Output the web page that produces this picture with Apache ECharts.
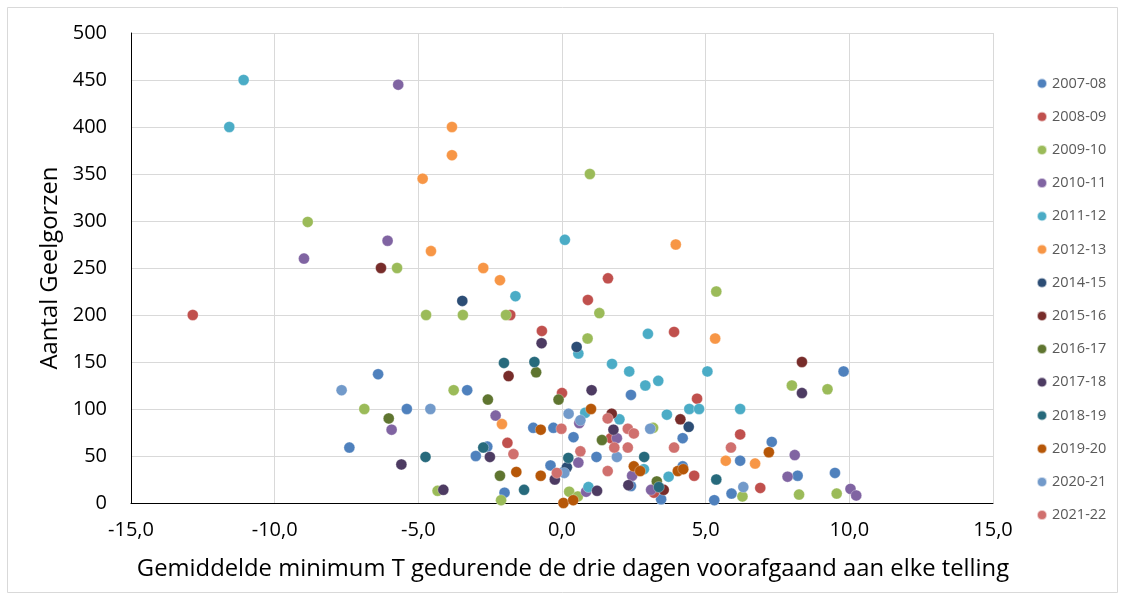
<!DOCTYPE html>
<html><head><meta charset="utf-8">
<script src="https://cdn.jsdelivr.net/npm/echarts@6/dist/echarts.min.js"></script>
<style>html,body{margin:0;padding:0;background:#fff}#c{width:1125px;height:600px}</style>
</head><body><div id="c"></div>
<script>
const seasons = ['2007-08','2008-09','2009-10','2010-11','2011-12','2012-13','2014-15','2015-16','2016-17','2017-18','2018-19','2019-20','2020-21','2021-22'];
const colors = ['#4F81BD','#C0504D','#9BBB59','#8064A2','#4BACC6','#F79646','#2C4D75','#772C2A','#5F7530','#4D3B62','#276A7C','#B65708','#729ACA','#D0706E'];
const xTicks = [-15,-10,-5,0,5,10,15];
const yTicks = [0,50,100,150,200,250,300,350,400,450,500];

const s2007_08 = [[-6.4,137],[-5.4,100],[-7.4,59],[-3.3,120],[-3.0,50],[-2.6,60],[-2.0,11],[-1.0,80],[-0.3,80],[-0.4,40],[0.4,70],[0.05,33],[1.2,49],[2.4,115],[2.4,18],[4.2,69],[4.2,39],[3.45,4],[5.3,3],[6.2,45],[7.3,65],[8.2,29],[9.5,32],[9.8,140],[5.9,10]];
const s2008_09 = [[-12.85,200],[-1.8,200],[-0.7,183],[0.0,117],[-1.9,64],[0.9,216],[1.6,239],[3.9,182],[4.7,111],[6.2,73],[1.7,69],[4.6,29],[6.9,16],[3.2,11]];
const s2009_10 = [[-8.85,299],[-5.74,250],[-4.73,200],[-3.45,200],[-1.95,200],[-6.88,100],[-3.77,120],[-4.33,13],[-2.12,3],[0.97,350],[1.3,202],[0.89,175],[5.37,225],[3.17,80],[0.25,12],[0.55,7],[8.0,125],[9.24,121],[6.28,7],[8.25,9],[9.56,10]];
const s2010_11 = [[-5.7,445],[-6.07,279],[-8.98,260],[-5.93,78],[-2.31,93],[0.57,43],[0.6,85],[1.91,69],[2.44,29],[0.84,12],[3.1,14],[8.1,51],[7.85,28],[10.04,15],[10.24,8]];
const s2011_12 = [[-11.08,450],[-11.58,400],[0.1,280],[-1.62,220],[0.57,159],[1.74,148],[2.34,140],[2.9,125],[3.35,130],[5.06,140],[2.99,180],[0.81,96],[2.0,89],[3.65,94],[4.43,100],[4.77,100],[6.2,100],[0.92,17],[2.85,36],[3.71,28]];
const s2012_13 = [[-4.85,345],[-3.83,400],[-3.83,370],[-4.56,268],[-2.74,250],[-2.16,237],[3.96,275],[5.33,175],[-2.09,84],[5.7,45],[6.72,42]];
const s2014_15 = [[-3.47,215],[0.51,166],[4.41,81],[0.17,38]];
const s2015_16 = [[-6.3,250],[-1.86,135],[1.73,95],[4.12,89],[8.35,150],[3.54,14]];
const s2016_17 = [[-6.03,90],[-2.58,110],[-0.9,139],[-0.12,110],[-2.16,29],[1.39,67],[3.3,23]];
const s2017_18 = [[-5.59,41],[-4.13,14],[-2.51,49],[-0.71,170],[-0.25,25],[1.03,120],[1.79,78],[2.31,19],[1.22,13],[8.35,117]];
const s2018_19 = [[-4.75,49],[-2.74,59],[-2.02,149],[-0.96,150],[-1.32,14],[0.22,48],[2.86,49],[5.37,25],[3.37,17]];
const s2019_20 = [[-0.74,78],[-1.59,33],[-0.74,29],[0.05,0],[0.39,3],[1.01,100],[2.5,39],[2.72,34],[4.03,34],[4.22,36],[7.2,54]];
const s2020_21 = [[-7.67,120],[-4.58,100],[0.08,32],[0.23,95],[0.64,88],[1.91,49],[3.07,79],[6.31,17]];
const s2021_22 = [[-1.69,52],[-0.02,79],[-0.18,32],[0.64,55],[1.59,90],[2.29,79],[2.5,74],[1.82,59],[2.29,59],[1.59,34],[3.9,59],[5.88,59]];

const allData = [s2007_08,s2008_09,s2009_10,s2010_11,s2011_12,s2012_13,s2014_15,s2015_16,s2016_17,s2017_18,s2018_19,s2019_20,s2020_21,s2021_22];

const FONT = 'Open Sans';
const chart = echarts.init(document.getElementById('c'));
chart.setOption({
  animation: false,
  backgroundColor: '#fff',
  textStyle: { fontFamily: FONT },
  graphic: [{ type: 'rect', shape: { x: 7.5, y: 7.5, width: 1110, height: 585 }, style: { fill: 'none', stroke: '#D9D9D9', lineWidth: 1 }, silent: true }],
  grid: { left: 131, right: 132, top: 33, bottom: 97 },
  legend: {
    orient: 'vertical', left: 1031, top: 71,
    itemWidth: 10, itemHeight: 10, itemGap: 18.2,
    icon: 'circle',
    textStyle: { fontFamily: FONT, fontSize: 14.5, color: '#595959', lineHeight: 14 },
    data: seasons
  },
  xAxis: {
    type: 'value', min: -15, max: 15, interval: 5,
    name: 'Gemiddelde minimum T gedurende de drie dagen voorafgaand aan elke telling',
    nameLocation: 'middle', nameGap: 54,
    nameTextStyle: { fontFamily: FONT, fontSize: 23.8, color: '#000', padding: [0, 0, 0, 22] },
    axisLine: { onZero: false, lineStyle: { color: '#000', width: 1 } },
    axisTick: { show: false },
    axisLabel: { fontFamily: FONT, fontSize: 20, color: '#000', margin: 17,
      formatter: v => xTicks.includes(v) ? v.toFixed(1).replace('.', ',') : '' },
    splitLine: { show: true, lineStyle: { color: '#D9D9D9', width: 1 } }
  },
  yAxis: {
    type: 'value', min: 0, max: 500, interval: 50,
    name: 'Aantal Geelgorzen',
    nameLocation: 'middle', nameGap: 68,
    nameTextStyle: { fontFamily: FONT, fontSize: 23.8, color: '#000' },
    axisLine: { show: true, onZero: false, lineStyle: { color: '#000', width: 1 } },
    axisTick: { show: false },
    axisLabel: { fontFamily: FONT, fontSize: 20, color: '#000', margin: 24,
      formatter: v => yTicks.includes(v) ? String(v) : '' },
    splitLine: { show: true, lineStyle: { color: '#D9D9D9', width: 1 } }
  },
  series: seasons.map((s, i) => ({
    name: s, type: 'scatter', data: allData[i],
    symbol: 'circle', symbolSize: 11,
    itemStyle: { color: colors[i], opacity: 1, borderColor: 'rgba(255,255,255,0.6)', borderWidth: 0.5 }
  }))
});
</script></body></html>
